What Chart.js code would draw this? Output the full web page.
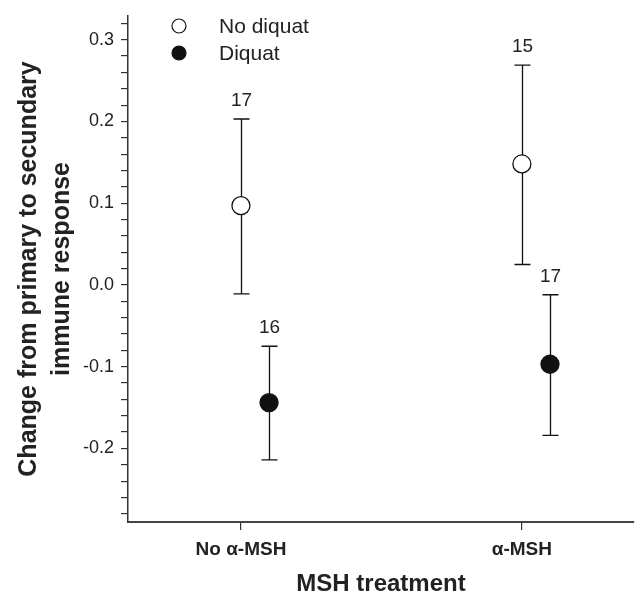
<!DOCTYPE html>
<html><head><meta charset="utf-8">
<script src="https://cdn.jsdelivr.net/npm/chart.js@4.4.1/dist/chart.umd.min.js"></script>
<style>html,body{margin:0;padding:0;background:#fff;} #wrap{width:635px;height:596px;}</style>
</head><body><div id="wrap"><canvas id="c" width="635" height="596"></canvas></div>
<script>
// ---- data ----
const categories = ['No α-MSH', 'α-MSH'];
const seriesNames = ['No diquat', 'Diquat'];
const noDiquatMean  = [0.097, 0.148];
const noDiquatUpper = [0.203, 0.269];
const noDiquatLower = [-0.011, 0.025];
const noDiquatN     = [17, 15];
const diquatMean    = [-0.144, -0.097];
const diquatUpper   = [-0.075, -0.012];
const diquatLower   = [-0.214, -0.184];
const diquatN       = [16, 17];
const yTickValues = [-0.28,-0.26,-0.24,-0.22,-0.2,-0.18,-0.16,-0.14,-0.12,-0.1,-0.08,-0.06,-0.04,-0.02,0,
  0.02,0.04,0.06,0.08,0.1,0.12,0.14,0.16,0.18,0.2,0.22,0.24,0.26,0.28,0.3,0.32];
const yTitleLines = ['Change from primary to secundary', 'immune response'];
const xTitle = 'MSH treatment';

const FONT = '"Liberation Sans", Arial, Helvetica, sans-serif';
const INK = '#111';
const diquatShift = 0.1;
const AXIS_RIGHT = 634;

function buildPoints(mean, lo, hi, n, shift) {
  return categories.map((c, i) => ({x: i + shift, y: mean[i], yMin: lo[i], yMax: hi[i], n: n[i]}));
}

// keep the plot area reaching the right edge (point overflow padding would shrink it)
const stretchArea = {
  id: 'stretchArea',
  afterLayout(chart) {
    const x = chart.scales.x;
    chart.chartArea.right = AXIS_RIGHT;
    chart.chartArea.width = AXIS_RIGHT - chart.chartArea.left;
    x.right = AXIS_RIGHT;
    x.width = AXIS_RIGHT - x.left;
    x.configure();
    x._labelItems = null;
    x._gridLineItems = null;
  }
};

const errorBars = {
  id: 'errorBars',
  beforeDatasetsDraw(chart) {
    const ctx = chart.ctx, ys = chart.scales.y;
    ctx.save();
    ctx.strokeStyle = INK; ctx.lineWidth = 1.3;
    ctx.fillStyle = '#222';
    ctx.font = '19px ' + FONT;
    ctx.textAlign = 'center'; ctx.textBaseline = 'alphabetic';
    chart.data.datasets.forEach((ds, di) => {
      const meta = chart.getDatasetMeta(di);
      meta.data.forEach((el, i) => {
        const d = ds.data[i];
        const x = Math.round(el.x) + 0.5;
        const yHi = ys.getPixelForValue(d.yMax), yLo = ys.getPixelForValue(d.yMin);
        ctx.beginPath();
        ctx.moveTo(x, yHi); ctx.lineTo(x, yLo);
        ctx.moveTo(x - 8, yHi); ctx.lineTo(x + 8, yHi);
        ctx.moveTo(x - 8, yLo); ctx.lineTo(x + 8, yLo);
        ctx.stroke();
        ctx.fillText(String(d.n), x, yHi - 13);
      });
    });
    ctx.restore();
  }
};

const legendPlugin = {
  id: 'customLegend',
  afterDraw(chart) {
    const ctx = chart.ctx, ca = chart.chartArea;
    ctx.save();
    ctx.font = '21px ' + FONT;
    ctx.textAlign = 'left'; ctx.textBaseline = 'middle';
    chart.data.datasets.forEach((ds, i) => {
      const cx = ca.left + 51, cy = ca.top + 10 + i * 27;
      ctx.beginPath();
      ctx.arc(cx, cy, 7, 0, Math.PI * 2);
      ctx.fillStyle = ds.pointBackgroundColor; ctx.fill();
      ctx.lineWidth = 1.2; ctx.strokeStyle = INK; ctx.stroke();
      ctx.fillStyle = '#222';
      ctx.fillText(ds.label, cx + 40, cy + 1);
    });
    ctx.restore();
  }
};

const isMajor = v => Math.abs(Math.round(v * 10) - v * 10) < 1e-6;

new Chart(document.getElementById('c'), {
  type: 'scatter',
  data: {
    datasets: [
      { label: seriesNames[0], data: buildPoints(noDiquatMean, noDiquatLower, noDiquatUpper, noDiquatN, 0),
        pointRadius: 9, pointHoverRadius: 9, pointBackgroundColor: '#ffffff', pointBorderColor: INK, pointBorderWidth: 1.3 },
      { label: seriesNames[1], data: buildPoints(diquatMean, diquatLower, diquatUpper, diquatN, diquatShift),
        pointRadius: 9, pointHoverRadius: 9, pointBackgroundColor: INK, pointBorderColor: INK, pointBorderWidth: 1.3 }
    ]
  },
  options: {
    responsive: false, animation: false, devicePixelRatio: 1,
    layout: { padding: { top: 10, right: 1, left: 0, bottom: 0 } },
    plugins: { legend: { display: false }, tooltip: { enabled: false } },
    scales: {
      x: {
        type: 'linear', min: -0.402, max: 1.399,
        afterBuildTicks: s => { s.ticks = categories.map((c, i) => ({ value: i })); },
        afterFit: s => { s.height = 74; },
        border: { display: true, color: '#444', width: 2 },
        grid: { drawOnChartArea: false, drawTicks: true, tickLength: 8, color: '#333', lineWidth: 1.2 },
        ticks: { autoSkip: false, maxRotation: 0, padding: 8, color: '#222',
          font: { family: FONT, size: 19, weight: 'bold', lineHeight: 1.2 },
          callback: (v) => categories[Math.round(v)] },
        title: { display: true, text: xTitle, color: '#222',
          font: { family: FONT, size: 24, weight: 'bold', lineHeight: 1 }, padding: { top: 0, bottom: 0 } }
      },
      y: {
        type: 'linear', min: -0.290, max: 0.329,
        afterBuildTicks: s => { s.ticks = yTickValues.map(v => ({ value: v })); },
        afterFit: s => { s.width = 128; },
        border: { display: true, color: '#333', width: 1.5 },
        grid: { drawOnChartArea: false, drawTicks: true, tickLength: 7, color: '#333', lineWidth: 1.2 },
        ticks: { autoSkip: false, padding: 7, color: '#222',
          font: { family: FONT, size: 18, lineHeight: 1 },
          callback: (v) => isMajor(v) ? v.toFixed(1) : '' },
        title: { display: true, text: yTitleLines, color: '#222',
          font: { family: FONT, size: 25, weight: 'bold', lineHeight: 1.3 }, padding: { top: 13, bottom: 0 } }
      }
    }
  },
  plugins: [stretchArea, errorBars, legendPlugin]
});
</script></body></html>
